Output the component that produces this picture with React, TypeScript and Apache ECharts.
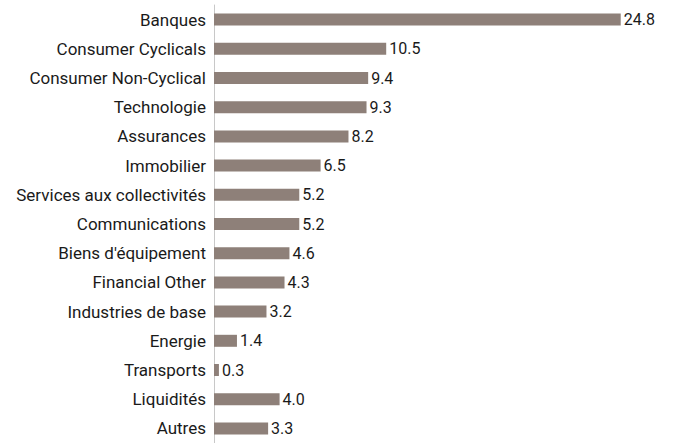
import React, { useEffect, useRef } from "react";
import * as echarts from "echarts";

const categories = [
  "Banques",
  "Consumer Cyclicals",
  "Consumer Non-Cyclical",
  "Technologie",
  "Assurances",
  "Immobilier",
  "Services aux collectivités",
  "Communications",
  "Biens d'équipement",
  "Financial Other",
  "Industries de base",
  "Energie",
  "Transports",
  "Liquidités",
  "Autres",
];
const values = [24.8, 10.5, 9.4, 9.3, 8.2, 6.5, 5.2, 5.2, 4.6, 4.3, 3.2, 1.4, 0.3, 4.0, 3.3];

const FONT = "Roboto, 'DejaVu Sans Condensed', sans-serif";

export default function App() {
  const ref = useRef<HTMLDivElement>(null);
  useEffect(() => {
    if (!ref.current) return;
    const chart = echarts.init(ref.current, undefined, { renderer: "svg" });
    chart.setOption({
      animation: false,
      grid: { left: 214, top: 5, width: 410, height: 440 },
      xAxis: {
        type: "value",
        min: 0,
        max: 25,
        show: false,
      },
      yAxis: {
        type: "category",
        data: categories,
        inverse: true,
        axisLine: { show: true, lineStyle: { color: "#c8c8c8", width: 1 } },
        axisTick: { show: false },
        axisLabel: {
          margin: 8,
          fontSize: 17,
          color: "#1a1a1a",
          fontFamily: FONT,
        },
      },
      series: [
        {
          type: "bar",
          data: values,
          barWidth: 12,
          itemStyle: { color: "#8e8079" },
          label: {
            show: true,
            position: "right",
            distance: 3,
            fontSize: 16,
            color: "#1a1a1a",
            fontFamily: FONT,
            formatter: (p: any) => Number(p.value).toFixed(1),
          },
        },
      ],
    });
    return () => chart.dispose();
  }, []);
  return (
    <div
      ref={ref}
      style={{ position: "fixed", left: 0, top: 0, width: 674, height: 443, background: "#fff" }}
    />
  );
}
